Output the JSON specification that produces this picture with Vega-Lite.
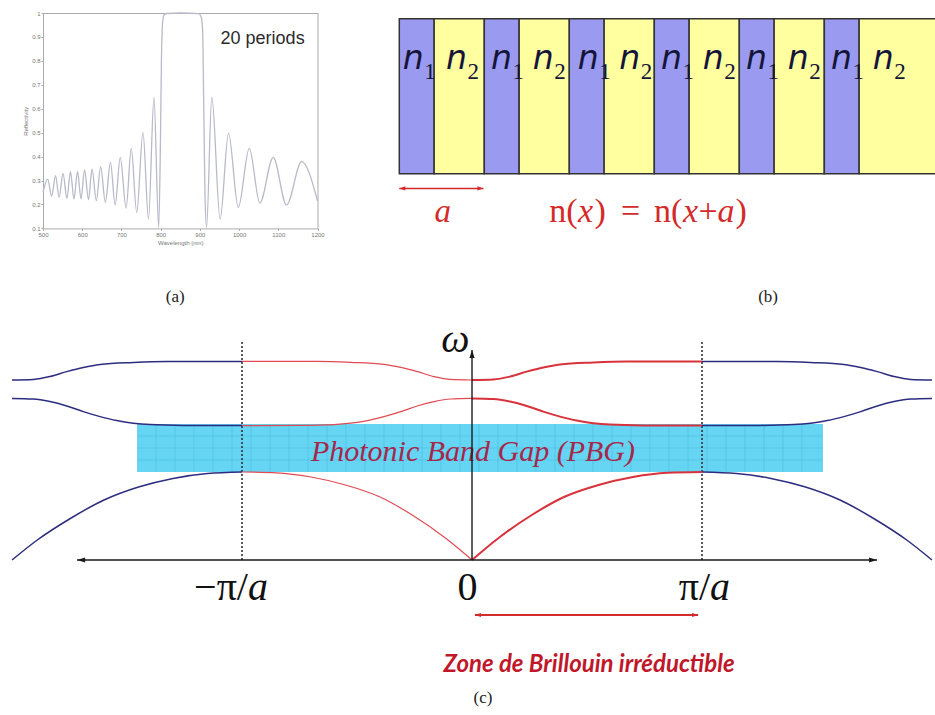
{
  "$schema": "https://vega.github.io/schema/vega-lite/v6.json",
  "background": "white",
  "padding": {"left": 0, "top": 9, "right": 0, "bottom": 0},
  "autosize": {"type": "pad"},
  "bounds": "full",
  "spacing": 0,
  "config": {"view": {"stroke": null}, "axis": {"grid": false, "labelOverlap": false}},
  "datasets": {
    "refl": [{"wl":500,"R":0.25},{"wl":512,"R":0.306},{"wl":522,"R":0.234},{"wl":532,"R":0.32},{"wl":541,"R":0.23},{"wl":551,"R":0.33},{"wl":561,"R":0.225},{"wl":570,"R":0.337},{"wl":579,"R":0.223},{"wl":588,"R":0.338},{"wl":597,"R":0.223},{"wl":606,"R":0.344},{"wl":616,"R":0.22},{"wl":625,"R":0.348},{"wl":636,"R":0.216},{"wl":647,"R":0.358},{"wl":659,"R":0.209},{"wl":672,"R":0.376},{"wl":684,"R":0.198},{"wl":697,"R":0.397},{"wl":712,"R":0.185},{"wl":725,"R":0.434},{"wl":739,"R":0.167},{"wl":755,"R":0.501},{"wl":769,"R":0.139},{"wl":783,"R":0.648},{"wl":795,"R":0.104},{"wl":799,"R":0.4},{"wl":802,"R":0.8},{"wl":805,"R":0.96},{"wl":809,"R":0.993},{"wl":816,"R":0.998},{"wl":850,"R":1.0},{"wl":897,"R":0.997},{"wl":903,"R":0.985},{"wl":907,"R":0.93},{"wl":910,"R":0.6},{"wl":913,"R":0.25},{"wl":917,"R":0.104},{"wl":930.5,"R":0.648},{"wl":951.7,"R":0.139},{"wl":973,"R":0.497},{"wl":998,"R":0.188},{"wl":1026,"R":0.434},{"wl":1053,"R":0.206},{"wl":1087,"R":0.397},{"wl":1121,"R":0.198},{"wl":1159.5,"R":0.379},{"wl":1200,"R":0.215}],
    "atext": [{"wl": 1060, "R": 0.893, "label": "20 periods", "kind": "note"}, {"wl": 837, "R": -0.1855, "label": "(a)", "kind": "cap"}],
    "layers": [
      {"mat":"n1","x0":0,"x1":0.41},{"mat":"n2","x0":0.41,"x1":1},
      {"mat":"n1","x0":1,"x1":1.41},{"mat":"n2","x0":1.41,"x1":2},
      {"mat":"n1","x0":2,"x1":2.41},{"mat":"n2","x0":2.41,"x1":3},
      {"mat":"n1","x0":3,"x1":3.41},{"mat":"n2","x0":3.41,"x1":4},
      {"mat":"n1","x0":4,"x1":4.41},{"mat":"n2","x0":4.41,"x1":5},
      {"mat":"n1","x0":5,"x1":5.41},{"mat":"n2","x0":5.41,"x1":6.5}
    ],
    "nlab": [
      {"x":0.04,"sub":"1"},{"x":0.549,"sub":"2"},
      {"x":1.079,"sub":"1"},{"x":1.569,"sub":"2"},
      {"x":2.099,"sub":"1"},{"x":2.588,"sub":"2"},
      {"x":3.079,"sub":"1"},{"x":3.569,"sub":"2"},
      {"x":4.079,"sub":"1"},{"x":4.569,"sub":"2"},
      {"x":5.079,"sub":"1"},{"x":5.569,"sub":"2"}
    ],
    "eq": [
      {"x":1.765,"t":"n(","it":0},{"x":2.102,"t":"x","it":1},{"x":2.296,"t":")","it":0},
      {"x":2.608,"t":"=","it":0},{"x":2.996,"t":"n(","it":0},{"x":3.338,"t":"x","it":1},
      {"x":3.52,"t":"+","it":0},{"x":3.744,"t":"a","it":1},{"x":3.955,"t":")","it":0}
    ],
    "gridv": [{"k":-1.3739},{"k":-1.2913},{"k":-1.2087},{"k":-1.1261},{"k":-1.0435},{"k":-0.9609},{"k":-0.8783},{"k":-0.7957},{"k":-0.7131},{"k":-0.6305},{"k":-0.5479},{"k":-0.4653},{"k":-0.3827},{"k":-0.3001},{"k":-0.2175},{"k":-0.1349},{"k":-0.0523},{"k":0.0303},{"k":0.1129},{"k":0.1955},{"k":0.2781},{"k":0.3607},{"k":0.4433},{"k":0.5259},{"k":0.6085},{"k":0.6911},{"k":0.7737},{"k":0.8563},{"k":0.9389},{"k":1.0215},{"k":1.1041},{"k":1.1867},{"k":1.2693},{"k":1.3519},{"k":1.4345}],
    "gridh": [{"w":0.5},{"w":0.56},{"w":0.62}],
    "curves": [
      {"s":"b1RR","g":"rR","k":0,"w":0},{"s":"b1RR","g":"rR","k":0.11,"w":0.105},{"s":"b1RR","g":"rR","k":0.26,"w":0.225},{"s":"b1RR","g":"rR","k":0.4,"w":0.315},{"s":"b1RR","g":"rR","k":0.55,"w":0.375},{"s":"b1RR","g":"rR","k":0.7,"w":0.415},{"s":"b1RR","g":"rR","k":0.85,"w":0.436},{"s":"b1RR","g":"rR","k":1.0,"w":0.44},
      {"s":"b1RL","g":"rL","k":0,"w":0},{"s":"b1RL","g":"rL","k":-0.11,"w":0.105},{"s":"b1RL","g":"rL","k":-0.26,"w":0.225},{"s":"b1RL","g":"rL","k":-0.4,"w":0.315},{"s":"b1RL","g":"rL","k":-0.55,"w":0.375},{"s":"b1RL","g":"rL","k":-0.7,"w":0.415},{"s":"b1RL","g":"rL","k":-0.85,"w":0.436},{"s":"b1RL","g":"rL","k":-1.0,"w":0.44},
      {"s":"b1BR","g":"b","k":1.0,"w":0.44},{"s":"b1BR","g":"b","k":1.15,"w":0.432},{"s":"b1BR","g":"b","k":1.3,"w":0.408},{"s":"b1BR","g":"b","k":1.45,"w":0.365},{"s":"b1BR","g":"b","k":1.6,"w":0.3},{"s":"b1BR","g":"b","k":1.75,"w":0.205},{"s":"b1BR","g":"b","k":1.89,"w":0.1},{"s":"b1BR","g":"b","k":2.0,"w":0},
      {"s":"b1BL","g":"b","k":-1.0,"w":0.44},{"s":"b1BL","g":"b","k":-1.15,"w":0.432},{"s":"b1BL","g":"b","k":-1.3,"w":0.408},{"s":"b1BL","g":"b","k":-1.45,"w":0.365},{"s":"b1BL","g":"b","k":-1.6,"w":0.3},{"s":"b1BL","g":"b","k":-1.75,"w":0.205},{"s":"b1BL","g":"b","k":-1.89,"w":0.1},{"s":"b1BL","g":"b","k":-2.0,"w":0},
      {"s":"b2RR","g":"rR","k":0,"w":0.808},{"s":"b2RR","g":"rR","k":0.093,"w":0.805},{"s":"b2RR","g":"rR","k":0.165,"w":0.792},{"s":"b2RR","g":"rR","k":0.238,"w":0.77},{"s":"b2RR","g":"rR","k":0.31,"w":0.742},{"s":"b2RR","g":"rR","k":0.383,"w":0.717},{"s":"b2RR","g":"rR","k":0.455,"w":0.697},{"s":"b2RR","g":"rR","k":0.527,"w":0.684},{"s":"b2RR","g":"rR","k":0.6,"w":0.677},{"s":"b2RR","g":"rR","k":0.745,"w":0.673},{"s":"b2RR","g":"rR","k":1.0,"w":0.672},
      {"s":"b2RL","g":"rL","k":0,"w":0.808},{"s":"b2RL","g":"rL","k":-0.093,"w":0.805},{"s":"b2RL","g":"rL","k":-0.165,"w":0.792},{"s":"b2RL","g":"rL","k":-0.238,"w":0.77},{"s":"b2RL","g":"rL","k":-0.31,"w":0.742},{"s":"b2RL","g":"rL","k":-0.383,"w":0.717},{"s":"b2RL","g":"rL","k":-0.455,"w":0.697},{"s":"b2RL","g":"rL","k":-0.527,"w":0.684},{"s":"b2RL","g":"rL","k":-0.6,"w":0.677},{"s":"b2RL","g":"rL","k":-0.745,"w":0.673},{"s":"b2RL","g":"rL","k":-1.0,"w":0.672},
      {"s":"b2BR","g":"b","k":1.0,"w":0.672},{"s":"b2BR","g":"b","k":1.255,"w":0.673},{"s":"b2BR","g":"b","k":1.4,"w":0.677},{"s":"b2BR","g":"b","k":1.473,"w":0.684},{"s":"b2BR","g":"b","k":1.545,"w":0.697},{"s":"b2BR","g":"b","k":1.617,"w":0.717},{"s":"b2BR","g":"b","k":1.69,"w":0.742},{"s":"b2BR","g":"b","k":1.762,"w":0.77},{"s":"b2BR","g":"b","k":1.835,"w":0.792},{"s":"b2BR","g":"b","k":1.907,"w":0.805},{"s":"b2BR","g":"b","k":2.0,"w":0.808},
      {"s":"b2BL","g":"b","k":-1.0,"w":0.672},{"s":"b2BL","g":"b","k":-1.255,"w":0.673},{"s":"b2BL","g":"b","k":-1.4,"w":0.677},{"s":"b2BL","g":"b","k":-1.473,"w":0.684},{"s":"b2BL","g":"b","k":-1.545,"w":0.697},{"s":"b2BL","g":"b","k":-1.617,"w":0.717},{"s":"b2BL","g":"b","k":-1.69,"w":0.742},{"s":"b2BL","g":"b","k":-1.762,"w":0.77},{"s":"b2BL","g":"b","k":-1.835,"w":0.792},{"s":"b2BL","g":"b","k":-1.907,"w":0.805},{"s":"b2BL","g":"b","k":-2.0,"w":0.808},
      {"s":"b3RR","g":"rR","k":0,"w":0.9},{"s":"b3RR","g":"rR","k":0.093,"w":0.903},{"s":"b3RR","g":"rR","k":0.165,"w":0.917},{"s":"b3RR","g":"rR","k":0.238,"w":0.942},{"s":"b3RR","g":"rR","k":0.31,"w":0.963},{"s":"b3RR","g":"rR","k":0.383,"w":0.978},{"s":"b3RR","g":"rR","k":0.527,"w":0.988},{"s":"b3RR","g":"rR","k":0.672,"w":0.993},{"s":"b3RR","g":"rR","k":1.0,"w":0.993},
      {"s":"b3RL","g":"rL","k":0,"w":0.9},{"s":"b3RL","g":"rL","k":-0.093,"w":0.903},{"s":"b3RL","g":"rL","k":-0.165,"w":0.917},{"s":"b3RL","g":"rL","k":-0.238,"w":0.942},{"s":"b3RL","g":"rL","k":-0.31,"w":0.963},{"s":"b3RL","g":"rL","k":-0.383,"w":0.978},{"s":"b3RL","g":"rL","k":-0.527,"w":0.988},{"s":"b3RL","g":"rL","k":-0.672,"w":0.993},{"s":"b3RL","g":"rL","k":-1.0,"w":0.993},
      {"s":"b3BR","g":"b","k":1.0,"w":0.993},{"s":"b3BR","g":"b","k":1.328,"w":0.993},{"s":"b3BR","g":"b","k":1.473,"w":0.988},{"s":"b3BR","g":"b","k":1.617,"w":0.978},{"s":"b3BR","g":"b","k":1.69,"w":0.963},{"s":"b3BR","g":"b","k":1.762,"w":0.942},{"s":"b3BR","g":"b","k":1.835,"w":0.917},{"s":"b3BR","g":"b","k":1.907,"w":0.903},{"s":"b3BR","g":"b","k":2.0,"w":0.9},
      {"s":"b3BL","g":"b","k":-1.0,"w":0.993},{"s":"b3BL","g":"b","k":-1.328,"w":0.993},{"s":"b3BL","g":"b","k":-1.473,"w":0.988},{"s":"b3BL","g":"b","k":-1.617,"w":0.978},{"s":"b3BL","g":"b","k":-1.69,"w":0.963},{"s":"b3BL","g":"b","k":-1.762,"w":0.942},{"s":"b3BL","g":"b","k":-1.835,"w":0.917},{"s":"b3BL","g":"b","k":-1.907,"w":0.903},{"s":"b3BL","g":"b","k":-2.0,"w":0.9}
    ]
  },
  "vconcat": [
    {
      "bounds": "flush",
      "spacing": 0,
      "hconcat": [
        {"width": 42.5, "height": 10, "data": {"values": [{"v": 0}]}, "mark": {"type": "point", "opacity": 0}, "encoding": {}},
        {
          "width": 274.5,
          "height": 215.4,
          "view": {"stroke": "#ababab", "strokeWidth": 1},
          "encoding": {
            "x": {"field": "wl", "type": "quantitative", "scale": {"domain": [500, 1200], "nice": false, "zero": false},
              "axis": {"values": [500,600,700,800,900,1000,1100,1200], "format": "d", "labelOverlap": false, "labelFlush": false, "labelSeparation": 0, "title": "Wavelength (nm)", "domain": false, "tickColor": "#aaaaaa", "tickSize": 2, "labelPadding": 1, "labelFontSize": 6, "labelFont": "Liberation Sans", "labelColor": "#777777", "titleFont": "Liberation Sans", "titleFontSize": 6, "titleFontWeight": "normal", "titleColor": "#777777", "titlePadding": 2}},
            "y": {"field": "R", "type": "quantitative", "scale": {"domain": [0.1, 1], "nice": false, "zero": false},
              "axis": {"values": [0.1,0.2,0.3,0.4,0.5,0.6,0.7,0.8,0.9,1], "format": "~g", "labelOverlap": false, "labelFlush": false, "labelSeparation": 0, "title": "Reflectivity", "domain": false, "tickColor": "#aaaaaa", "tickSize": 2, "labelPadding": 1, "labelFontSize": 6, "labelFont": "Liberation Sans", "labelColor": "#777777", "titleFont": "Liberation Sans", "titleFontSize": 6, "titleFontWeight": "normal", "titleColor": "#777777", "titlePadding": 3}}
          },
          "layer": [
            {
              "data": {"name": "refl"},
              "mark": {"type": "line", "interpolate": "monotone", "color": "#b9b9c9", "strokeWidth": 1.3}
            },
            {
              "data": {"name": "atext"},
              "transform": [{"filter": "datum.kind == 'note'"}],
              "mark": {"type": "text", "font": "Liberation Sans", "fontSize": 18, "color": "#2b2b2b", "align": "center", "baseline": "middle"},
              "encoding": {"text": {"field": "label"}}
            },
            {
              "data": {"name": "atext"},
              "transform": [{"filter": "datum.kind == 'cap'"}],
              "mark": {"type": "text", "font": "Liberation Serif", "fontSize": 17, "color": "#222222", "align": "center", "baseline": "middle"},
              "encoding": {"text": {"field": "label"}}
            }
          ]
        },
        {
          "width": 618,
          "height": 305.7,
          "layer": [
            {
              "data": {"name": "layers"},
              "mark": {"type": "rect", "stroke": "#333333", "strokeWidth": 1.5, "clip": true},
              "encoding": {
                "x": {"field": "x0", "type": "quantitative", "scale": {"domain": [-0.9565, 6.314], "nice": false, "zero": false}, "axis": null},
                "x2": {"field": "x1"},
                "y": {"datum": 0, "type": "quantitative", "scale": {"domain": [-0.9355, 1.0368], "nice": false, "zero": false}, "axis": null},
                "y2": {"datum": 1},
                "color": {"field": "mat", "type": "nominal", "scale": {"domain": ["n1", "n2"], "range": ["#9a9af0", "#ffffa0"]}, "legend": null}
              }
            },
            {
              "data": {"name": "nlab"},
              "mark": {"type": "text", "text": "n", "font": "DejaVu Sans", "fontStyle": "italic", "fontSize": 33, "color": "#15153a", "align": "left", "baseline": "alphabetic"},
              "encoding": {"x": {"field": "x", "type": "quantitative"}, "y": {"datum": 0.677, "type": "quantitative"}}
            },
            {
              "data": {"name": "nlab"},
              "mark": {"type": "text", "dx": 21.5, "font": "Liberation Serif", "fontSize": 23, "color": "#15153a", "align": "left", "baseline": "alphabetic"},
              "encoding": {"x": {"field": "x", "type": "quantitative"}, "y": {"datum": 0.613, "type": "quantitative"}, "text": {"field": "sub"}}
            },
            {
              "data": {"values": [{"x0": 0, "x1": 0.99, "y": -0.095}]},
              "mark": {"type": "rule", "color": "#d42a2a", "strokeWidth": 1.5},
              "encoding": {"x": {"field": "x0", "type": "quantitative"}, "x2": {"field": "x1"}, "y": {"field": "y", "type": "quantitative"}}
            },
            {
              "data": {"values": [{"x": 0, "y": -0.095, "ang": 180}, {"x": 0.99, "y": -0.095, "ang": 0}]},
              "mark": {"type": "point", "shape": "M0,0L-2,-0.7L-2,0.7Z", "filled": true, "size": 36, "opacity": 1, "color": "#d42a2a", "strokeWidth": 0},
              "encoding": {"x": {"field": "x", "type": "quantitative"}, "y": {"field": "y", "type": "quantitative"}, "angle": {"field": "ang", "type": "quantitative", "scale": null}}
            },
            {
              "data": {"values": [{"x": 0.51, "y": -0.314, "t": "a"}]},
              "mark": {"type": "text", "font": "Liberation Serif", "fontStyle": "italic", "fontSize": 33, "color": "#d42a2a", "align": "center", "baseline": "alphabetic"},
              "encoding": {"x": {"field": "x", "type": "quantitative"}, "y": {"field": "y", "type": "quantitative"}, "text": {"field": "t"}}
            },
            {
              "data": {"name": "eq"},
              "transform": [{"filter": "datum.it == 0"}],
              "mark": {"type": "text", "font": "Liberation Serif", "fontSize": 34, "color": "#d42a2a", "align": "left", "baseline": "alphabetic"},
              "encoding": {"x": {"field": "x", "type": "quantitative"}, "y": {"datum": -0.314, "type": "quantitative"}, "text": {"field": "t"}}
            },
            {
              "data": {"name": "eq"},
              "transform": [{"filter": "datum.it == 1"}],
              "mark": {"type": "text", "font": "Liberation Serif", "fontStyle": "italic", "fontSize": 34, "color": "#d42a2a", "align": "left", "baseline": "alphabetic"},
              "encoding": {"x": {"field": "x", "type": "quantitative"}, "y": {"datum": -0.314, "type": "quantitative"}, "text": {"field": "t"}}
            },
            {
              "data": {"values": [{"x": 4.338, "y": -0.794, "t": "(b)"}]},
              "mark": {"type": "text", "font": "Liberation Serif", "fontSize": 17, "color": "#222222", "align": "center", "baseline": "middle"},
              "encoding": {"x": {"field": "x", "type": "quantitative"}, "y": {"field": "y", "type": "quantitative"}, "text": {"field": "t"}}
            }
          ]
        }
      ]
    },
    {
      "width": 935,
      "height": 382,
      "layer": [
        {
          "data": {"values": [{"k0": -1.4565, "k1": 1.526, "w0": 0.44, "w1": 0.68}]},
          "mark": {"type": "rect", "color": "#66d5f3"},
          "encoding": {
            "x": {"field": "k0", "type": "quantitative", "scale": {"domain": [-2.0522, 2.013], "nice": false, "zero": false}, "axis": null},
            "x2": {"field": "k1"},
            "y": {"field": "w0", "type": "quantitative", "scale": {"domain": [-0.76, 1.15], "nice": false, "zero": false}, "axis": null},
            "y2": {"field": "w1"}
          }
        },
        {
          "data": {"name": "gridv"},
          "mark": {"type": "rule", "color": "#45b6de", "strokeWidth": 0.8, "opacity": 0.6},
          "encoding": {"x": {"field": "k", "type": "quantitative"}, "y": {"datum": 0.44, "type": "quantitative"}, "y2": {"datum": 0.68}}
        },
        {
          "data": {"name": "gridh"},
          "mark": {"type": "rule", "color": "#45b6de", "strokeWidth": 0.8, "opacity": 0.6},
          "encoding": {"y": {"field": "w", "type": "quantitative"}, "x": {"datum": -1.4565, "type": "quantitative"}, "x2": {"datum": 1.526}}
        },
        {
          "data": {"values": [{"k": 0.004, "w": 0.495, "t": "Photonic Band Gap (PBG)"}]},
          "mark": {"type": "text", "font": "Liberation Serif", "fontStyle": "italic", "fontSize": 30, "color": "#a5284a", "align": "center", "baseline": "alphabetic"},
          "encoding": {"x": {"field": "k", "type": "quantitative"}, "y": {"field": "w", "type": "quantitative"}, "text": {"field": "t"}}
        },
        {
          "data": {"values": [{"k": -1}, {"k": 1}]},
          "mark": {"type": "rule", "color": "#333333", "strokeWidth": 1.6, "strokeDash": [2, 2]},
          "encoding": {"x": {"field": "k", "type": "quantitative"}, "y": {"datum": 0, "type": "quantitative"}, "y2": {"datum": 1.09}}
        },
        {
          "data": {"name": "curves"},
          "transform": [{"filter": "datum.g == 'b'"}],
          "mark": {"type": "line", "interpolate": "monotone", "color": "#2d2d80", "strokeWidth": 1.5},
          "encoding": {"x": {"field": "k", "type": "quantitative"}, "y": {"field": "w", "type": "quantitative"}, "detail": {"field": "s"}}
        },
        {
          "data": {"name": "curves"},
          "transform": [{"filter": "datum.g == 'rL'"}],
          "mark": {"type": "line", "interpolate": "monotone", "color": "#e04a52", "strokeWidth": 1.2},
          "encoding": {"x": {"field": "k", "type": "quantitative"}, "y": {"field": "w", "type": "quantitative"}, "detail": {"field": "s"}}
        },
        {
          "data": {"name": "curves"},
          "transform": [{"filter": "datum.g == 'rR'"}],
          "mark": {"type": "line", "interpolate": "monotone", "color": "#d8323c", "strokeWidth": 2},
          "encoding": {"x": {"field": "k", "type": "quantitative"}, "y": {"field": "w", "type": "quantitative"}, "detail": {"field": "s"}}
        },
        {
          "data": {"values": [{"k0": -1.717, "k1": 1.761, "w0": 0, "w1": 0}, {"k0": 0, "k1": 0, "w0": 0, "w1": 1.05}]},
          "mark": {"type": "rule", "color": "#1a1a1a", "strokeWidth": 1.4},
          "encoding": {"x": {"field": "k0", "type": "quantitative"}, "x2": {"field": "k1"}, "y": {"field": "w0", "type": "quantitative"}, "y2": {"field": "w1"}}
        },
        {
          "data": {"values": [{"k": -1.717, "w": 0, "ang": 180}, {"k": 1.761, "w": 0, "ang": 0}, {"k": 0, "w": 1.05, "ang": 270}]},
          "mark": {"type": "point", "shape": "M0,0L-2,-0.65L-2,0.65Z", "filled": true, "size": 64, "opacity": 1, "color": "#1a1a1a", "strokeWidth": 0},
          "encoding": {"x": {"field": "k", "type": "quantitative"}, "y": {"field": "w", "type": "quantitative"}, "angle": {"field": "ang", "type": "quantitative", "scale": null}}
        },
        {
          "data": {"values": [{"k": -0.974, "t": "−π/"}, {"k": 1.035, "t": "π/"}]},
          "mark": {"type": "text", "font": "Liberation Serif", "fontSize": 40, "color": "#111111", "align": "right", "baseline": "alphabetic"},
          "encoding": {"x": {"field": "k", "type": "quantitative"}, "y": {"datum": -0.2, "type": "quantitative"}, "text": {"field": "t"}}
        },
        {
          "data": {"values": [{"k": -0.974, "t": "a"}, {"k": 1.035, "t": "a"}]},
          "mark": {"type": "text", "font": "Liberation Serif", "fontStyle": "italic", "fontSize": 40, "color": "#111111", "align": "left", "baseline": "alphabetic"},
          "encoding": {"x": {"field": "k", "type": "quantitative"}, "y": {"datum": -0.2, "type": "quantitative"}, "text": {"field": "t"}}
        },
        {
          "data": {"values": [{"k": -0.02, "t": "0"}]},
          "mark": {"type": "text", "font": "Liberation Serif", "fontSize": 40, "color": "#111111", "align": "center", "baseline": "alphabetic"},
          "encoding": {"x": {"field": "k", "type": "quantitative"}, "y": {"datum": -0.2, "type": "quantitative"}, "text": {"field": "t"}}
        },
        {
          "data": {"values": [{"k": -0.072, "w": 1.04, "t": "ω"}]},
          "mark": {"type": "text", "font": "Liberation Serif", "fontStyle": "italic", "fontSize": 40, "color": "#111111", "align": "center", "baseline": "alphabetic"},
          "encoding": {"x": {"field": "k", "type": "quantitative"}, "y": {"field": "w", "type": "quantitative"}, "text": {"field": "t"}}
        },
        {
          "data": {"values": [{"k0": 0.013, "k1": 0.983, "w": -0.275}]},
          "mark": {"type": "rule", "color": "#d42a2a", "strokeWidth": 2},
          "encoding": {"x": {"field": "k0", "type": "quantitative"}, "x2": {"field": "k1"}, "y": {"field": "w", "type": "quantitative"}}
        },
        {
          "data": {"values": [{"k": 0.013, "w": -0.275, "ang": 180}, {"k": 0.983, "w": -0.275, "ang": 0}]},
          "mark": {"type": "point", "shape": "M0,0L-2,-0.7L-2,0.7Z", "filled": true, "size": 36, "opacity": 1, "color": "#d42a2a", "strokeWidth": 0},
          "encoding": {"x": {"field": "k", "type": "quantitative"}, "y": {"field": "w", "type": "quantitative"}, "angle": {"field": "ang", "type": "quantitative", "scale": null}}
        },
        {
          "data": {"values": [{"k": 0.509, "w": -0.56, "t": "Zone de Brillouin irréductible"}]},
          "mark": {"type": "text", "font": "Lato", "fontStyle": "italic", "fontWeight": "bold", "fontSize": 24, "color": "#c0182a", "align": "center", "baseline": "alphabetic"},
          "encoding": {"x": {"field": "k", "type": "quantitative"}, "y": {"field": "w", "type": "quantitative"}, "text": {"field": "t"}}
        },
        {
          "data": {"values": [{"k": 0.048, "w": -0.69, "t": "(c)"}]},
          "mark": {"type": "text", "font": "Liberation Serif", "fontSize": 17, "color": "#222222", "align": "center", "baseline": "middle"},
          "encoding": {"x": {"field": "k", "type": "quantitative"}, "y": {"field": "w", "type": "quantitative"}, "text": {"field": "t"}}
        }
      ]
    }
  ]
}
